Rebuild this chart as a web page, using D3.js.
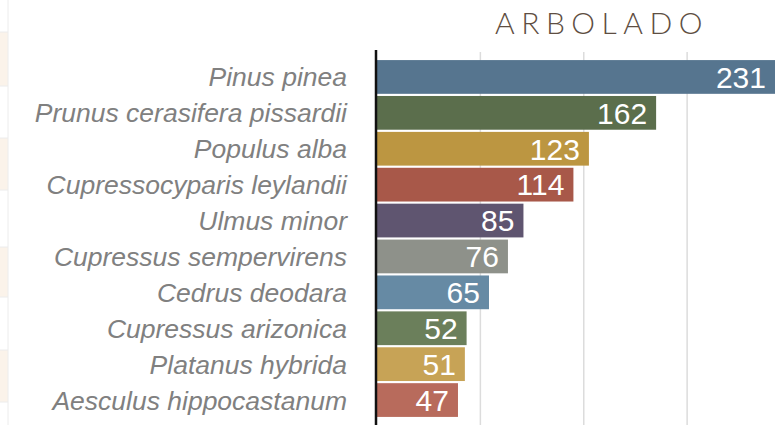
<!DOCTYPE html>
<html>
<head>
<meta charset="utf-8">
<script src="https://cdn.jsdelivr.net/npm/d3@7"></script>
<style>
  body { margin: 0; background: #fff; overflow: hidden; }
  .lbl { font-family: "Liberation Sans", Arial, sans-serif; font-style: italic; }
  .val { font-family: "Liberation Sans", Arial, sans-serif; }
</style>
</head>
<body>
<div id="chart"></div>
<script>
var species = ["Pinus pinea", "Prunus cerasifera pissardii", "Populus alba",
  "Cupressocyparis leylandii", "Ulmus minor", "Cupressus sempervirens",
  "Cedrus deodara", "Cupressus arizonica", "Platanus hybrida", "Aesculus hippocastanum"];
var counts = [231, 162, 123, 114, 85, 76, 65, 52, 51, 47];
var colors = ["#56758f", "#5b6e4c", "#bc9641", "#a85849", "#5f5570",
  "#8e918a", "#668aa4", "#6b7f5b", "#c7a356", "#b86b5c"];
var gridTicks = [60, 120, 180];

var svgWidth = 775;
var svgHeight = 425;
var x0 = 377;

var svg = d3.select("#chart")
  .append("svg")
  .attr("width", svgWidth)
  .attr("height", svgHeight);

// faint table strip on the far left
var stripes = [[32, 86], [138, 190], [247, 297], [350, 402]];
svg.selectAll(".stripe")
  .data(stripes)
  .enter()
  .append("rect")
  .attr("x", 0)
  .attr("y", d => d[0])
  .attr("width", 8)
  .attr("height", d => d[1] - d[0])
  .attr("fill", "#fbf3ea");
svg.selectAll(".stripeLine")
  .data(d3.merge(stripes))
  .enter()
  .append("line")
  .attr("x1", 0).attr("x2", 8)
  .attr("y1", d => d).attr("y2", d => d)
  .attr("stroke", "#ececec");
svg.append("line")
  .attr("x1", 8).attr("x2", 8)
  .attr("y1", 0).attr("y2", svgHeight)
  .attr("stroke", "#ececec");

var xScale = d3.scaleLinear()
  .domain([0, 231])
  .range([x0, 775]);

var yScale = d3.scaleBand()
  .domain(species)
  .range([59, 418])
  .paddingInner(0.06)
  .paddingOuter(0.03);

// gridlines
svg.append("g")
  .selectAll("line")
  .data(gridTicks)
  .enter()
  .append("line")
  .attr("x1", d => xScale(d))
  .attr("x2", d => xScale(d))
  .attr("y1", 52)
  .attr("y2", svgHeight)
  .attr("stroke", "#dcdcdc")
  .attr("stroke-width", 1.5);

svg.selectAll(".bar")
  .data(counts)
  .enter()
  .append("rect")
  .attr("class", "bar")
  .attr("x", xScale(0))
  .attr("y", (d, i) => yScale(species[i]))
  .attr("width", d => xScale(d) - xScale(0))
  .attr("height", yScale.bandwidth())
  .attr("fill", (d, i) => colors[i]);

svg.selectAll(".val")
  .data(counts)
  .enter()
  .append("text")
  .attr("class", "val")
  .attr("x", d => xScale(d) - 9)
  .attr("y", (d, i) => yScale(species[i]) + yScale.bandwidth() / 2)
  .attr("dy", "0.36em")
  .attr("text-anchor", "end")
  .attr("fill", "#fff")
  .style("font-size", "30px")
  .text(d => d);

svg.selectAll(".lbl")
  .data(species)
  .enter()
  .append("text")
  .attr("class", "lbl")
  .attr("x", 347)
  .attr("y", d => yScale(d) + yScale.bandwidth() / 2)
  .attr("dy", "0.36em")
  .attr("text-anchor", "end")
  .attr("fill", "#808080")
  .style("font-size", "26.5px")
  .text(d => d);

// axis line
svg.append("line")
  .attr("x1", 376).attr("x2", 376)
  .attr("y1", 50).attr("y2", svgHeight)
  .attr("stroke", "#111")
  .attr("stroke-width", 2.5);

svg.append("text")
  .attr("x", 495)
  .attr("y", 34)
  .attr("fill", "#5e4e42")
  .style("font-family", "Lato, 'Open Sans', sans-serif")
  .style("font-weight", "300")
  .style("font-size", "30px")
  .style("letter-spacing", "6.5px")
  .text("ARBOLADO");
</script>
</body>
</html>
